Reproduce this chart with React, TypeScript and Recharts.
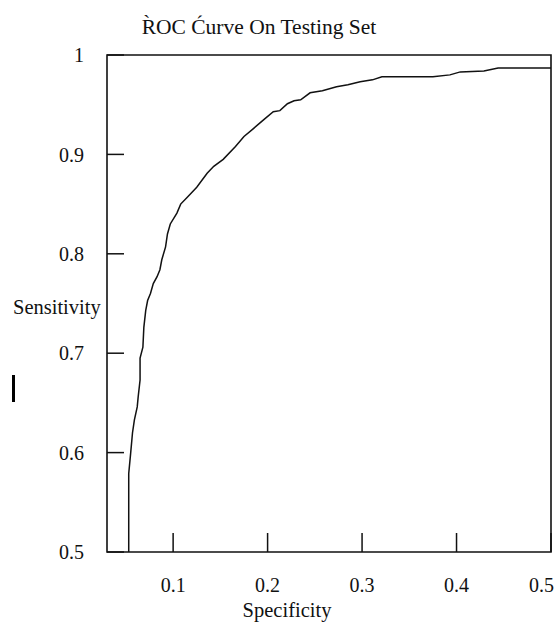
import { LineChart, Line, XAxis, YAxis, ReferenceArea } from "recharts";

// ROC curve points
const specificity = [
  0.053, 0.053, 0.055, 0.057, 0.059, 0.062, 0.063, 0.065, 0.065, 0.068,
  0.069, 0.071, 0.073, 0.076, 0.079, 0.083, 0.086, 0.088, 0.092, 0.094,
  0.097, 0.104, 0.108, 0.115, 0.125, 0.136, 0.143, 0.153, 0.166, 0.175,
  0.185, 0.196, 0.206, 0.213, 0.221, 0.228, 0.235, 0.245, 0.258, 0.273,
  0.285, 0.298, 0.311, 0.321, 0.375, 0.393, 0.404, 0.429, 0.444, 0.5,
];
const sensitivity = [
  0.5, 0.579, 0.599, 0.62, 0.633, 0.646, 0.656, 0.673, 0.695, 0.706,
  0.726, 0.743, 0.753, 0.76, 0.77, 0.777, 0.784, 0.794, 0.807, 0.82,
  0.83, 0.841, 0.85, 0.857, 0.867, 0.881, 0.888, 0.895, 0.908, 0.918,
  0.926, 0.935, 0.943, 0.944, 0.951, 0.954, 0.955, 0.962, 0.964, 0.968,
  0.97, 0.973, 0.975, 0.978, 0.978, 0.98, 0.983, 0.984, 0.987, 0.987,
];

const xTicks = [0.1, 0.2, 0.3, 0.4, 0.5];
const yTicks = [0.5, 0.6, 0.7, 0.8, 0.9, 1];
const xDomain = [0.03, 0.5];
const yDomain = [0.5, 1];

const title = "R\u0300OC C\u0301urve On Testing Set";
const xLabel = "Specificity";
const yLabel = "Sensitivity";

const font = "'Liberation Serif', 'Times New Roman', serif";
const ink = "#111";

const data = specificity.map((s, i) => ({ x: s, y: sensitivity[i] }));

const XTick = (props: any) => {
  const { x, y, payload } = props;
  const last = payload.value === xTicks[xTicks.length - 1];
  return (
    <text
      x={last ? x + 5 : x}
      y={y}
      dy="0.71em"
      textAnchor={last ? "end" : "middle"}
      fontFamily={font}
      fontSize={20}
      fill={ink}
    >
      {payload.value}
    </text>
  );
};

export default function App() {
  return (
    <div style={{ position: "absolute", left: 0, top: 0, width: 559, height: 625, background: "#fff" }}>
      <div
        style={{
          position: "absolute",
          left: 0,
          top: 17,
          width: 518,
          textAlign: "center",
          fontFamily: font,
          fontSize: 21.5,
          lineHeight: "21.5px",
          color: ink,
          whiteSpace: "nowrap",
        }}
      >
        {title}
      </div>
      {/* stray cursor mark in the source image */}
      <div style={{ position: "absolute", left: 12, top: 375, width: 3, height: 27, background: "#000" }} />
      <LineChart
        width={559}
        height={625}
        data={data}
        margin={{ top: 55, right: 8, bottom: 0, left: 0 }}
      >
        <XAxis
          type="number"
          dataKey="x"
          domain={xDomain}
          ticks={xTicks}
          allowDataOverflow
          height={73}
          axisLine={false}
          tickSize={-19}
          tickMargin={45}
          tickLine={{ stroke: ink, strokeWidth: 1.5 }}
          tick={<XTick />}
          label={{
            content: (p: any) => (
              <text
                x={p.viewBox.x + p.viewBox.width / 2 - 42}
                y={p.viewBox.y + 65}
                textAnchor="middle"
                fontFamily={font}
                fontSize={20.5}
                fill={ink}
              >
                {xLabel}
              </text>
            ),
          }}
        />
        <YAxis
          type="number"
          dataKey="y"
          domain={yDomain}
          ticks={yTicks}
          allowDataOverflow
          width={107}
          axisLine={false}
          tickSize={-17}
          tickMargin={40}
          tickLine={{ stroke: ink, strokeWidth: 1.5 }}
          tick={{ fontFamily: font, fontSize: 20, fill: ink }}
          label={{
            content: (p: any) => (
              <text
                x={13}
                y={p.viewBox.y + p.viewBox.height / 2 + 10}
                textAnchor="start"
                fontFamily={font}
                fontSize={20.5}
                fill={ink}
              >
                {yLabel}
              </text>
            ),
          }}
        />
        <ReferenceArea
          x1={xDomain[0]}
          x2={xDomain[1]}
          y1={yDomain[0]}
          y2={yDomain[1]}
          fill="none"
          fillOpacity={0}
          stroke={ink}
          strokeWidth={1.6}
        />
        <Line
          type="linear"
          dataKey="y"
          stroke={ink}
          strokeWidth={1.5}
          dot={false}
          activeDot={false}
          isAnimationActive={false}
        />
      </LineChart>
    </div>
  );
}
